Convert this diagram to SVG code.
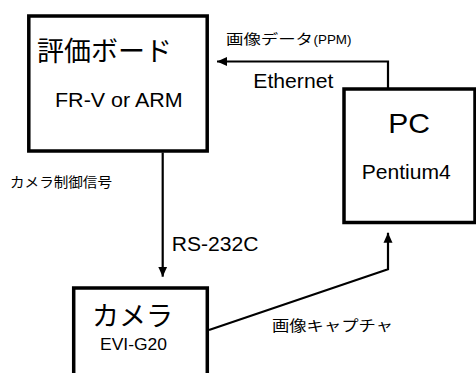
<svg xmlns="http://www.w3.org/2000/svg" width="476" height="373" viewBox="0 0 476 373">
<style>
.box{fill:#fff;stroke:#000;stroke-width:3.5}
.conn{fill:none;stroke:#000;stroke-width:2.2;stroke-linejoin:miter}
.jp{font-family:"Noto Sans CJK JP","Noto Sans CJK SC",sans-serif;fill:#000}
.lt{font-family:"Liberation Sans",Arial,sans-serif;fill:#000}
</style>
<defs>
<marker id="ah" markerUnits="userSpaceOnUse" markerWidth="12" markerHeight="10" refX="10" refY="5" orient="auto">
<path d="M0,0.5 L10,5 L0,9.5 Z" fill="#000"/>
</marker>
</defs>
<rect width="476" height="373" fill="#fff"/>
<g id="board">
<rect class="box" x="28.8" y="16" width="178.4" height="135"/>
<text class="jp" x="37" y="61" font-size="27" textLength="135" lengthAdjust="spacingAndGlyphs">評価ボード</text>
<text class="lt" x="55" y="107.3" font-size="20.5" textLength="127.7" lengthAdjust="spacingAndGlyphs">FR-V or ARM</text>
</g>
<g id="pc">
<rect class="box" x="344" y="89" width="131" height="133.5"/>
<text class="lt" x="388.3" y="133.3" font-size="28" textLength="41.7" lengthAdjust="spacingAndGlyphs">PC</text>
<text class="lt" x="361.7" y="179" font-size="20" textLength="89" lengthAdjust="spacingAndGlyphs">Pentium4</text>
</g>
<g id="camera">
<rect class="box" x="73.7" y="288" width="133.6" height="100"/>
<text class="jp" x="92" y="326" font-size="27" textLength="81" lengthAdjust="spacingAndGlyphs">カメラ</text>
<text class="lt" x="100" y="350" font-size="16" textLength="67" lengthAdjust="spacingAndGlyphs">EVI-G20</text>
</g>
<g id="connectors">
<path class="conn" d="M388,89 L388,61.5 L217,61.5" marker-end="url(#ah)"/>
<path class="conn" d="M162.7,152.5 L162.7,276.7" marker-end="url(#ah)"/>
<path class="conn" d="M209,330 L388,269.3 L388,232.7" marker-end="url(#ah)"/>
<text class="jp" x="226" y="44" font-size="13.5" textLength="87" lengthAdjust="spacingAndGlyphs">画像データ</text>
<text class="lt" x="313.5" y="44" font-size="13.5" textLength="38" lengthAdjust="spacingAndGlyphs">(PPM)</text>
<text class="lt" x="253.3" y="88.3" font-size="19.5" textLength="80" lengthAdjust="spacingAndGlyphs">Ethernet</text>
<text class="jp" x="10" y="187" font-size="13.5" textLength="102" lengthAdjust="spacingAndGlyphs">カメラ制御信号</text>
<text class="lt" x="171.7" y="251" font-size="20" textLength="86.7" lengthAdjust="spacingAndGlyphs">RS-232C</text>
<text class="jp" x="272" y="331" font-size="14.5" textLength="121" lengthAdjust="spacingAndGlyphs">画像キャプチャ</text>
</g>
</svg>
